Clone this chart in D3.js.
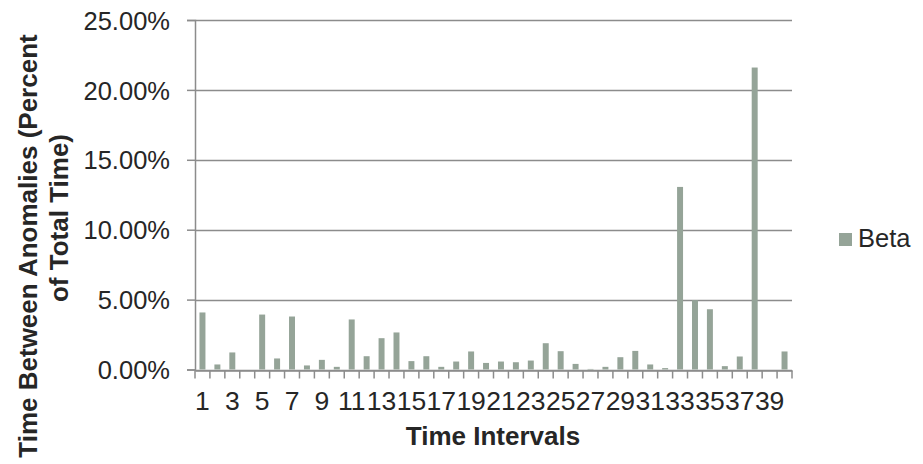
<!DOCTYPE html>
<html>
<head>
<meta charset="utf-8">
<script src="https://cdn.jsdelivr.net/npm/d3@7"></script>
<style>
  html, body { margin: 0; padding: 0; background: #ffffff; }
  svg { display: block; font-family: "Liberation Sans", Arial, sans-serif; }
</style>
</head>
<body>
<svg id="chart" width="923" height="464"></svg>
<script>
// Time intervals 1..40
const categories = d3.range(1, 41).map(String);
// Share of total time for each interval (fraction of 1)
const betaValues = [
  0.0408, 0.0036, 0.0122, 0.0000, 0.0393, 0.0079, 0.0379, 0.0029, 0.0069, 0.0019,
  0.0358, 0.0095, 0.0224, 0.0265, 0.0060, 0.0095, 0.0019, 0.0057, 0.0129, 0.0047,
  0.0057, 0.0052, 0.0064, 0.0188, 0.0131, 0.0040, 0.0004, 0.0019, 0.0088, 0.0133,
  0.0036, 0.0010, 0.1306, 0.0496, 0.0431, 0.0024, 0.0093, 0.2160, 0.0000, 0.0129
];
const yTicks = [0, 0.05, 0.10, 0.15, 0.20, 0.25];
const xTickLabels = categories.filter((d, i) => i % 2 === 0);
const seriesName = "Beta";

const barColor = "#95a498";
const gridColor = "#8c8c8c";
const textColor = "#262626";

const svg = d3.select("#chart");
const plot = { left: 195, right: 792, top: 20, bottom: 369.5 };

const x = d3.scaleBand()
  .domain(categories)
  .range([plot.left, plot.right])
  .paddingInner(0.6)
  .paddingOuter(0.3);

const y = d3.scaleLinear()
  .domain([0, 0.25])
  .range([plot.bottom, plot.top]);

// horizontal gridlines
svg.append("g")
  .selectAll("line")
  .data(yTicks)
  .join("line")
  .attr("x1", plot.left)
  .attr("x2", plot.right)
  .attr("y1", d => Math.round(y(d)) + 0.5)
  .attr("y2", d => Math.round(y(d)) + 0.5)
  .attr("stroke", gridColor)
  .attr("stroke-width", 1.5);

// bars
svg.append("g")
  .selectAll("rect")
  .data(betaValues)
  .join("rect")
  .attr("x", (d, i) => x(categories[i]))
  .attr("width", x.bandwidth())
  .attr("y", d => y(d))
  .attr("height", d => y(0) - y(d))
  .attr("fill", barColor);

// y axis
const yAxis = svg.append("g")
  .attr("transform", `translate(${plot.left},0)`)
  .call(d3.axisLeft(y).tickValues(yTicks).tickFormat(d3.format(".2%")).tickSize(8).tickPadding(17));
yAxis.select(".domain").attr("stroke", gridColor).attr("stroke-width", 1.5);
yAxis.selectAll(".tick line").attr("stroke", gridColor).attr("stroke-width", 1.5);
yAxis.selectAll(".tick text")
  .attr("fill", textColor)
  .style("font-size", "25.5px")
  .attr("dy", "0.36em");

// x axis: labels on odd intervals, tick marks at interval boundaries
const xAxis = svg.append("g")
  .attr("transform", `translate(0,${Math.round(plot.bottom) + 0.5})`)
  .call(d3.axisBottom(x).tickValues(xTickLabels).tickSize(0).tickPadding(21));
xAxis.select(".domain").attr("stroke", gridColor).attr("stroke-width", 1.5);
xAxis.selectAll(".tick text")
  .attr("fill", textColor)
  .style("font-size", "26.5px");

const boundaries = categories.map(c => x(c) - x.step() * x.paddingOuter()).concat([plot.right]);
xAxis.append("g")
  .selectAll("line")
  .data(boundaries)
  .join("line")
  .attr("x1", d => d)
  .attr("x2", d => d)
  .attr("y1", 0)
  .attr("y2", 8)
  .attr("stroke", gridColor)
  .attr("stroke-width", 1.5);

// axis titles
svg.append("text")
  .attr("x", (plot.left + plot.right) / 2 - 0.5)
  .attr("y", 445)
  .attr("text-anchor", "middle")
  .attr("fill", textColor)
  .style("font-size", "26px")
  .style("font-weight", "bold")
  .text("Time Intervals");

const yTitleLines = [
  { text: "Time Between Anomalies (Percent", cx: 37, cy: 246 },
  { text: "of Total Time)", cx: 68, cy: 218 }
];
svg.append("g")
  .selectAll("text")
  .data(yTitleLines)
  .join("text")
  .attr("transform", d => `translate(${d.cx},${d.cy}) rotate(-90)`)
  .attr("text-anchor", "middle")
  .attr("fill", textColor)
  .style("font-size", "26px")
  .style("font-weight", "bold")
  .text(d => d.text);

// legend
const legend = svg.append("g").attr("transform", "translate(839,233)");
legend.append("rect")
  .attr("width", 13)
  .attr("height", 13)
  .attr("fill", barColor);
legend.append("text")
  .attr("x", 19)
  .attr("y", 13.5)
  .attr("fill", textColor)
  .style("font-size", "25.5px")
  .text(seriesName);
</script>
</body>
</html>
